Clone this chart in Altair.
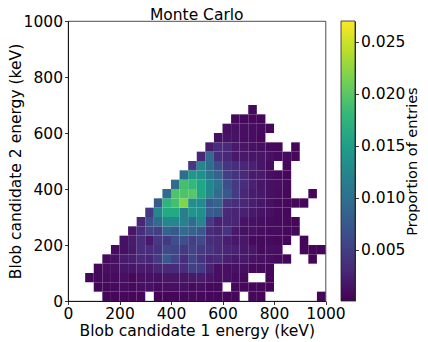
import altair as alt
import pandas as pd

N_BINS = 30
RANGE_MAX = 1000
# each row: (first column index, proportions for consecutive columns; None = empty bin)
rows = {
    0: (4, [.0005,.0005,.0006,.0005,.0006,None,.0004,.0005,.0005,.0006,.0007,.0006,.0005,.0005,.0005,.0005,None,.0005,.0005,None,None,None,None,None,None,.0004]),
    1: (3, [.0005,.0006,.0007,.0009,.0007,.001,.0012,.0008,.001,.001,.0012,.0008,.001,.0006,.0006,None,.0005,.0005,.0005,.0005,.0004]),
    2: (2, [.0005,.0006,.0008,.0008,.001,.0006,.001,.0012,.0012,.0015,.0015,.0015,.0018,.002,.0015,.001,.0012,.0008,.0007,None,None,.0004]),
    3: (3, [.0006,.001,.0012,.0016,.0016,.002,.002,.0028,.0032,.0033,.0035,.005,.0048,.0025,.001,.001,.0012,.001,.0007,.0007,.0006]),
    4: (4, [.0008,.0012,.002,.0022,.0032,.0028,.0045,.0075,.0055,.0035,.0055,.004,.0028,.0032,.0022,.0018,.0018,.0013,.0012,.0009,.0007,.0005,None,None,.0004]),
    5: (5, [.0008,.0012,.0018,.0035,.0035,.004,.006,.0055,.0045,.0055,.0045,.0042,.0032,.0028,.0025,.0018,.0016,.0008,.0011,.0009,None,None,.0005,.0005,.0005]),
    6: (6, [.0012,.002,.0035,.0018,.0045,.0045,.0065,.0065,.005,.006,.0035,.0032,.0022,.0017,.0017,.0007,.0007,.0008,.0006,.0005,None,.0004]),
    7: (7, [.0015,.0035,.0055,.005,.0085,.0075,.0095,.0085,.0075,.0035,.0028,.0042,.0018,.0012,.0013,.0009,.0008,.0008,.0006,.0005]),
    8: (8, [.003,.007,.0095,.0125,.0125,.012,.0095,.0125,.0045,.0025,.003,.0028,.0014,.0012,.0009,.0008,.0007,.0007,.0005]),
    9: (9, [.0045,.0125,.0165,.0165,.0115,.014,.0135,.0078,.0075,.0032,.0028,.0025,.0018,.0014,.0012,.0008,.0006]),
    10: (10, [.0075,.0175,.019,.022,.0135,.013,.0075,.0085,.0042,.0035,.003,.0022,.0016,.0012,.0008,.0006,.0005,.0005]),
    11: (11, [.0095,.0195,.0195,.02,.016,.0125,.0095,.0075,.0048,.003,.002,.0018,.0012,.0009,.0006,None,None,.0005]),
    12: (12, [.0095,.019,.018,.016,.0125,.0105,.0065,.0045,.0035,.0025,.0015,.0012,.001,.0007]),
    13: (13, [.0095,.0145,.0135,.0105,.0085,.005,.004,.0033,.002,.002,.001,.0008,.0006]),
    14: (14, [.0045,.0125,.0095,.0065,.0042,.0035,.003,.0025,.0015,.0008,None,.0006]),
    15: (15, [.003,.0095,.0035,.003,.0018,.0018,.0016,.0015,.0012,.0008,.0008,.0006]),
    16: (16, [.002,.0035,.0032,.0018,.0015,.0012,.001,.0007,.0006,None,.0005]),
    17: (17, [.0012,.0014,.0013,.001,.0009,.0006]),
    18: (18, [.001,.0012,.001,.0009,.0008,.0007]),
    19: (19, [.0006,.0006,.0006,.0005]),
    20: (21, [.0006]),
}
x_ticks = [0, 200, 400, 600, 800, 1000]
y_ticks = [0, 200, 400, 600, 800, 1000]
cbar_ticks = [0.005, 0.010, 0.015, 0.020, 0.025]
color_min, color_max = 0.0001, 0.027
viridis = ["#440154", "#482878", "#3e4a89", "#31688e", "#26828e",
           "#1f9e89", "#35b779", "#6ece58", "#b5de2b", "#fde725"]

records = []
bin_w = RANGE_MAX / N_BINS
for r, (start, vals) in rows.items():
    for i, v in enumerate(vals):
        if v is not None:
            c = start + i
            records.append(dict(x0=c * bin_w, x1=(c + 1) * bin_w,
                                y0=r * bin_w, y1=(r + 1) * bin_w, p=v))
df = pd.DataFrame(records)

FONT = "DejaVu Sans"
W, H = 257.5, 280
common = dict(grid=False, labelFontSize=15.5, tickSize=3.5,
              labelFont=FONT, titleFont=FONT, titleFontWeight="normal",
              labelPadding=2, labelOverlap=False, labelFlush=False,
              domainColor="black", tickColor="black", labelColor="black", titleColor="black",
              domainWidth=0.8, tickWidth=0.8)

main = (
    alt.Chart(df)
    .mark_rect(stroke=None)
    .encode(
        x=alt.X("x0:Q", scale=alt.Scale(domain=[0, RANGE_MAX], nice=False),
                axis=alt.Axis(values=x_ticks, format="d", title="Blob candidate 1 energy (keV)",
                              titleFontSize=15.5, titlePadding=1, **common)),
        x2="x1:Q",
        y=alt.Y("y0:Q", scale=alt.Scale(domain=[0, RANGE_MAX], nice=False),
                axis=alt.Axis(values=y_ticks, format="d", title="Blob candidate 2 energy (keV)",
                              titleFontSize=15.5, titlePadding=0, **common)),
        y2="y1:Q",
        color=alt.Color("p:Q", scale=alt.Scale(scheme="viridis", domain=[color_min, color_max]), legend=None),
    )
)

gradient = alt.LinearGradient(
    gradient="linear", x1=0, x2=0, y1=1, y2=0,
    stops=[alt.GradientStop(color=c, offset=i / (len(viridis) - 1)) for i, c in enumerate(viridis)],
)
bar_df = pd.DataFrame({"lo": [color_min], "hi": [color_max]})
cbar = (
    alt.Chart(bar_df)
    .mark_rect(fill=gradient, stroke="#222222", strokeWidth=0.8)
    .encode(
        x=alt.value(W + 15.5), x2=alt.value(W + 29.5),
        y=alt.Y("lo:Q", scale=alt.Scale(domain=[color_min, color_max], nice=False, zero=False),
                axis=alt.Axis(orient="right", offset=29.5, values=cbar_ticks, format=".3f",
                              title="Proportion of entries", titleFontSize=14.5, titleAngle=270,
                              titlePadding=15, **common)),
        y2="hi:Q",
    )
)

chart = (
    alt.layer(main, cbar)
    .resolve_scale(y="independent", x="independent")
    .properties(
        width=W, height=H,
        title=alt.TitleParams("Monte Carlo", fontSize=15.5, fontWeight="normal", frame="group",
                              font=FONT, anchor="middle", offset=1, dy=10.5, color="black"),
        autosize=alt.AutoSizeParams(type="none"),
        padding={"left": 60, "top": 13, "right": 94.5, "bottom": 38},
        background="white",
    )
    .configure_view(stroke="#222222", strokeWidth=0.8)
)

chart.save("out.html", embed_options={"renderer": "svg", "actions": False})
